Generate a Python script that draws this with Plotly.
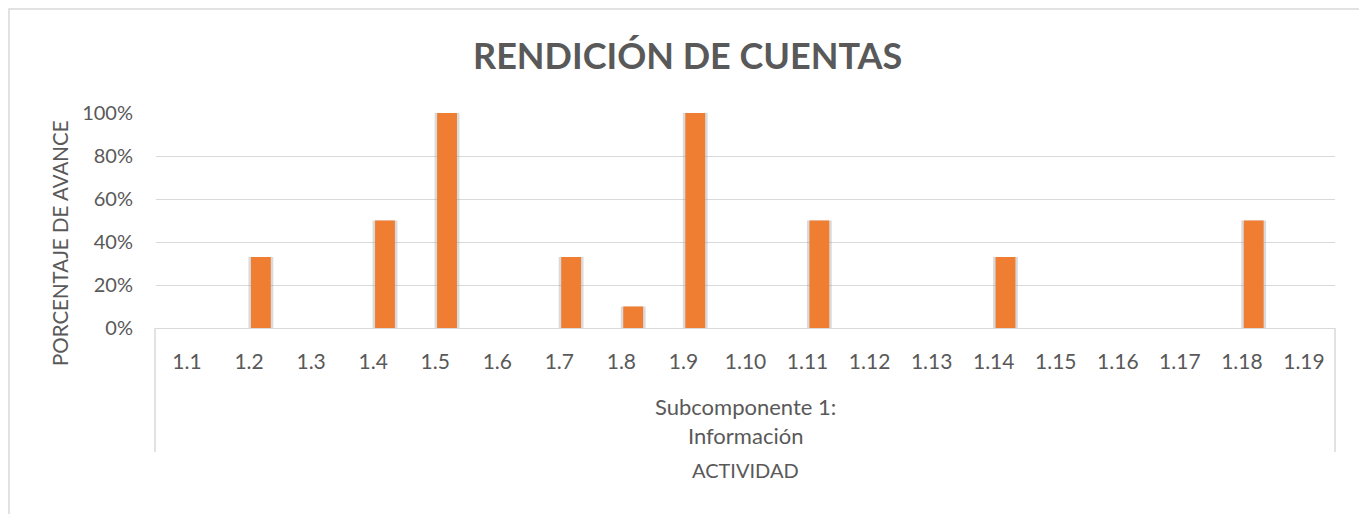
import plotly.graph_objects as go

# ---------------- datos ----------------
actividades = ["1.1", "1.2", "1.3", "1.4", "1.5", "1.6", "1.7", "1.8", "1.9", "1.10",
               "1.11", "1.12", "1.13", "1.14", "1.15", "1.16", "1.17", "1.18", "1.19"]
avance = [0, 0.33, 0, 0.50, 1.00, 0, 0.33, 0.10, 1.00, 0,
          0.50, 0, 0, 0.33, 0, 0, 0, 0.50, 0]
grupo = "Subcomponente 1:<br>Información"

TITULO = "RENDICIÓN DE CUENTAS"
TITULO_Y = "PORCENTAJE DE AVANCE"
TITULO_X = "ACTIVIDAD"

# ---------------- estilo ----------------
OFF = 8                                # margen del body de la pagina
W, H = 1367 - OFF, 514 - OFF
L, R, T, B = 156 - OFF, 1335 - OFF, 113 - OFF, 328 - OFF   # area de trazado
TEXTO = "#595959"
GRID = "#d9d9d9"
NARANJA = "#ef7d32"
SOMBRA = "rgba(150,150,150,0.35)"
FUENTE = "Lato, 'Open Sans', sans-serif"

# barras desplazadas a la derecha del centro (como serie 2 de un grupo en Excel)
ANCHO, DESP = 0.32, 0.03


def px_x(p):
    # p en pixeles de la captura
    return (p - OFF - L) / (R - L)


def px_y(p):
    return (B - (p - OFF)) / (B - T)


fig = go.Figure()

# sombra detras de las barras
fig.add_trace(go.Bar(
    x=actividades, y=avance, width=ANCHO + 0.08, offset=DESP - 0.04,
    marker=dict(color=SOMBRA, line=dict(width=0)),
    hoverinfo="skip", showlegend=False,
))
fig.add_trace(go.Bar(
    x=actividades, y=avance, width=ANCHO, offset=DESP,
    marker=dict(color=NARANJA, line=dict(width=0)),
    name="Avance", showlegend=False,
    hovertemplate="%{x}: %{y:.0%}<extra></extra>",
))

fig.update_layout(
    width=W, height=H,
    margin=dict(l=L, r=W - R, t=T, b=H - B),
    paper_bgcolor="white", plot_bgcolor="white",
    barmode="overlay",
    font=dict(family=FUENTE, color=TEXTO, size=20),
    showlegend=False,
)

fig.update_yaxes(
    range=[0, 1], tickvals=[0, 0.2, 0.4, 0.6, 0.8, 1.0], tickformat=".0%",
    showgrid=True, gridcolor=GRID, gridwidth=1, zeroline=False,
    showline=False, ticks="", ticklabelstandoff=22,
    tickfont=dict(size=20, color=TEXTO),
)
fig.update_xaxes(
    type="category", showgrid=False, zeroline=False,
    showline=True, linecolor=GRID, linewidth=1, ticks="",
    tickfont=dict(size=21, color=TEXTO), ticklabelstandoff=15,
)

# separadores del eje de categorias (estilo Excel multinivel)
for xp in (155, 1335):
    fig.add_shape(type="line", xref="paper", yref="paper",
                  x0=px_x(xp), x1=px_x(xp), y0=0, y1=px_y(452),
                  line=dict(color=GRID, width=1.5))

# borde del grafico
fig.add_shape(type="rect", xref="paper", yref="paper",
              x0=px_x(9), x1=px_x(1365), y0=px_y(9), y1=px_y(530),
              line=dict(color=GRID, width=1.5), layer="below")

annots = [
    dict(text=f"<b>{TITULO}</b>", x=px_x(687), y=px_y(55), size=36),
    dict(text=grupo, x=px_x(745), y=px_y(421), size=22),
    dict(text=TITULO_X, x=px_x(745), y=px_y(470), size=20),
]
for a in annots:
    fig.add_annotation(text=a["text"], xref="paper", yref="paper",
                       x=a["x"], y=a["y"], xanchor="center", yanchor="middle",
                       showarrow=False, font=dict(size=a["size"], color=TEXTO, family=FUENTE))

fig.add_annotation(text=TITULO_Y, xref="paper", yref="paper",
                   x=px_x(60), y=px_y(243), xanchor="center", yanchor="middle",
                   textangle=-90, showarrow=False,
                   font=dict(size=20.5, color=TEXTO, family=FUENTE))

fig.write_html("out.html")
